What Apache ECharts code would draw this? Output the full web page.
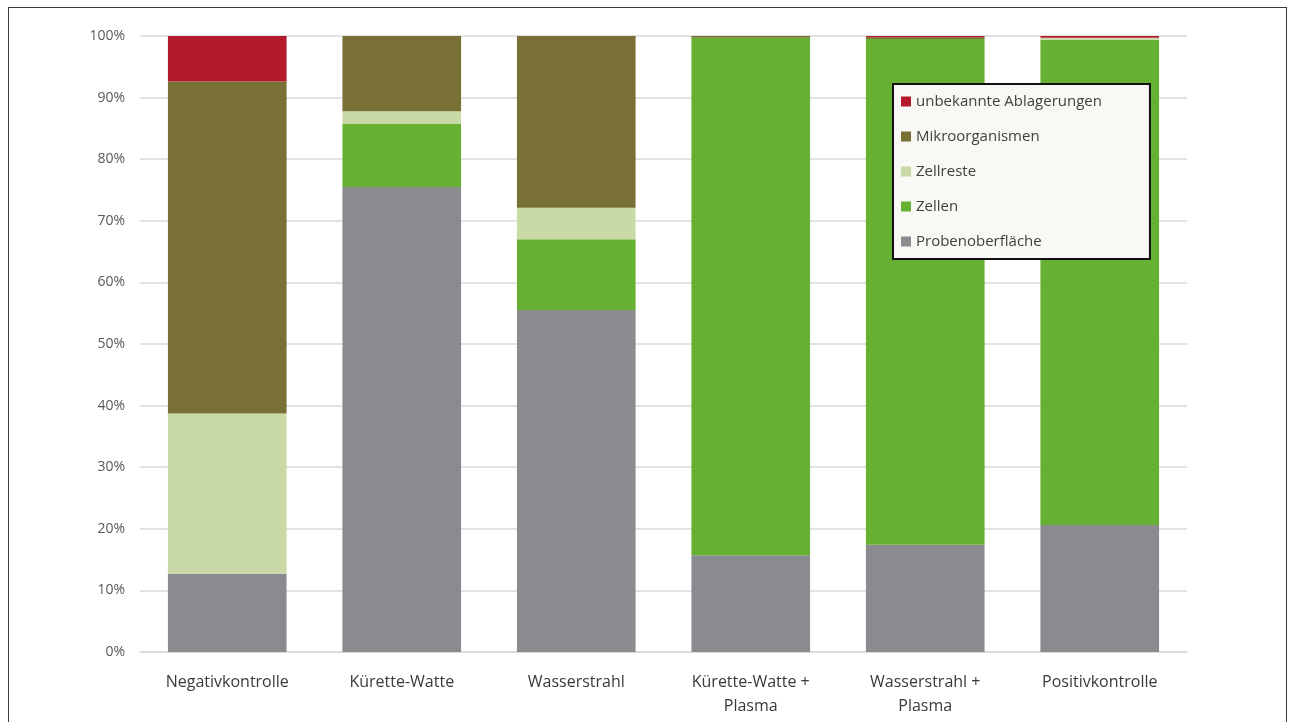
<!DOCTYPE html>
<html>
<head>
<meta charset="utf-8">
<script src="https://cdn.jsdelivr.net/npm/echarts@6/dist/echarts.min.js"></script>
<style>
  html, body { margin: 0; padding: 0; background: #ffffff; }
  #wrap { position: relative; width: 1289px; height: 722px; overflow: hidden; }
  #chart { position: absolute; left: 0; top: 0; width: 1289px; height: 722px; }
  #frame { position: absolute; left: 8px; top: 7px; width: 1277px; height: 740px;
           border: 1.5px solid #3a3a3a; pointer-events: none; }
</style>
</head>
<body>
<div id="wrap">
  <div id="chart"></div>
  <div id="frame"></div>
</div>
<script>
const categories = ['Negativkontrolle', 'Kürette-Watte', 'Wasserstrahl',
                    'Kürette-Watte +\nPlasma', 'Wasserstrahl +\nPlasma', 'Positivkontrolle'];
const yTicks = [0, 10, 20, 30, 40, 50, 60, 70, 80, 90, 100];

const probenoberflaeche = [12.7, 75.5, 55.5, 15.7, 17.4, 20.6];
const zellen            = [0.0, 10.3, 11.5, 84.0, 82.1, 78.8];
const zellreste         = [26.0, 2.0, 5.1, 0.0, 0.0, 0.3];
const mikroorganismen   = [53.9, 12.2, 27.9, 0.3, 0.3, 0.0];
const unbekannt         = [7.4, 0.0, 0.0, 0.0, 0.2, 0.3];

const seriesDefs = [
  { name: 'Probenoberfläche', data: probenoberflaeche, color: '#898b8f' },
  { name: 'Zellen', data: zellen, color: '#66b132' },
  { name: 'Zellreste', data: zellreste, color: '#c9daa7' },
  { name: 'Mikroorganismen', data: mikroorganismen, color: '#797036' },
  { name: 'unbekannte Ablagerungen', data: unbekannt, color: '#b31a2c' }
];

const chart = echarts.init(document.getElementById('chart'));
chart.setOption({
  animation: false,
  backgroundColor: '#ffffff',
  grid: { left: 140, right: 102, top: 36, bottom: 70, containLabel: false },
  legend: {
    orient: 'vertical',
    left: 893, top: 84,
    data: ['unbekannte Ablagerungen', 'Mikroorganismen', 'Zellreste', 'Zellen', 'Probenoberfläche'],
    icon: 'rect',
    itemWidth: 10, itemHeight: 10,
    itemGap: 20,
    padding: [10, 48, 10, 8],
    backgroundColor: '#f8f8f5',
    borderColor: '#111111',
    borderWidth: 2,
    textStyle: { fontFamily: 'Open Sans', fontSize: 15, color: '#404040', lineHeight: 14 }
  },
  xAxis: {
    type: 'category',
    data: categories,
    axisLine: { show: true, lineStyle: { color: '#d9d9d9', width: 1.5 } },
    axisTick: { show: false },
    axisLabel: { fontFamily: 'Open Sans', fontSize: 16, color: '#3a3a3a', margin: 18, lineHeight: 24, interval: 0 }
  },
  yAxis: {
    type: 'value',
    min: yTicks[0], max: yTicks[yTicks.length - 1], interval: yTicks[1] - yTicks[0],
    axisLine: { show: false },
    axisTick: { show: false },
    splitLine: { lineStyle: { color: '#d9d9d9', width: 1.5 } },
    axisLabel: { formatter: '{value}%', fontFamily: 'Open Sans', fontSize: 14, color: '#595959', margin: 15 }
  },
  series: seriesDefs.map(s => ({
    name: s.name,
    type: 'bar',
    stack: 'total',
    data: s.data,
    barWidth: '68%',
    itemStyle: { color: s.color }
  }))
});
</script>
</body>
</html>
